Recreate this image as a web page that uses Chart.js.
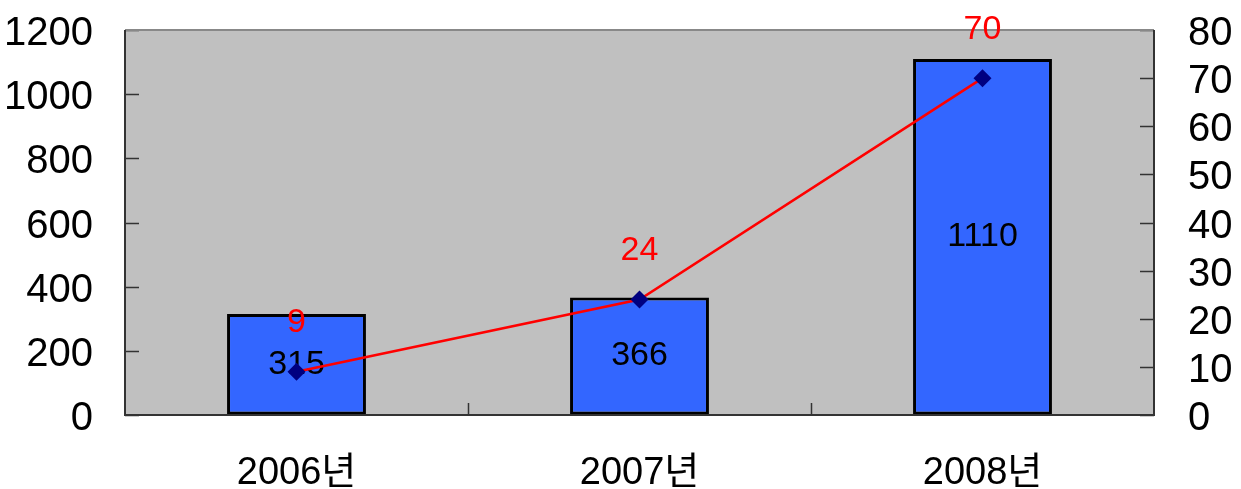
<!DOCTYPE html>
<html>
<head>
<meta charset="utf-8">
<script src="https://cdn.jsdelivr.net/npm/chart.js@4/dist/chart.umd.min.js"></script>
<style>
  html, body { margin: 0; padding: 0; background: #fff; }
  #wrap { width: 1241px; height: 489px; }
</style>
</head>
<body>
<div id="wrap"><canvas id="chart" width="1241" height="489"></canvas></div>
<script>
// chart data
const years = ['2006년', '2007년', '2008년'];
const barValues = [315, 366, 1110];
const lineValues = [9, 24, 70];

const fontFamily = '"Liberation Sans", "Noto Sans CJK KR", sans-serif';

// gray plot area + inward tick marks
const plotArea = {
    id: 'plotArea',
    beforeDatasetsDraw(chart) {
        const ctx = chart.ctx;
        const a = chart.chartArea;
        ctx.save();
        ctx.fillStyle = '#c0c0c0';
        ctx.fillRect(a.left, a.top, a.right - a.left, a.bottom - a.top);

        ctx.strokeStyle = '#333';
        ctx.lineWidth = 1.5;
        ctx.beginPath();
        const yl = chart.scales.y;
        yl.ticks.forEach(t => {
            const py = Math.round(yl.getPixelForValue(t.value)) + 0.5;
            ctx.moveTo(a.left, py);
            ctx.lineTo(a.left + 14, py);
        });
        const yr = chart.scales.y2;
        yr.ticks.forEach(t => {
            const py = Math.round(yr.getPixelForValue(t.value)) + 0.5;
            ctx.moveTo(a.right, py);
            ctx.lineTo(a.right - 14, py);
        });
        const xs = chart.scales.x;
        for (let i = 1; i < years.length; i++) {
            const px = Math.round((xs.getPixelForValue(i - 1) + xs.getPixelForValue(i)) / 2) + 0.5;
            ctx.moveTo(px, a.bottom);
            ctx.lineTo(px, a.bottom - 12);
        }
        ctx.stroke();
        ctx.restore();
    },
    afterDatasetDraw(chart, args) {
        // values inside the bars, drawn under the line
        if (args.meta.type !== 'bar') return;
        const ctx = chart.ctx;
        ctx.save();
        ctx.font = '34px ' + fontFamily;
        ctx.fillStyle = '#000';
        ctx.textAlign = 'center';
        ctx.textBaseline = 'middle';
        args.meta.data.forEach((el, i) => {
            ctx.fillText(barValues[i], el.x, (el.y + el.base) / 2);
        });
        ctx.restore();
    },
    afterDatasetsDraw(chart) {
        const ctx = chart.ctx;
        const a = chart.chartArea;
        ctx.save();
        // frame
        ctx.lineWidth = 2;
        ctx.strokeStyle = '#888';
        ctx.beginPath();
        ctx.moveTo(a.left, a.top);
        ctx.lineTo(a.right, a.top);
        ctx.stroke();
        ctx.strokeStyle = '#333';
        ctx.beginPath();
        ctx.moveTo(a.left, a.top);
        ctx.lineTo(a.left, a.bottom);
        ctx.lineTo(a.right, a.bottom);
        ctx.lineTo(a.right, a.top);
        ctx.stroke();

        // red values above the line points
        const meta = chart.getDatasetMeta(1);
        ctx.font = '34px ' + fontFamily;
        ctx.fillStyle = '#ff0000';
        ctx.textAlign = 'center';
        ctx.textBaseline = 'middle';
        meta.data.forEach((pt, i) => {
            ctx.fillText(lineValues[i], pt.x, pt.y - 49);
        });
        ctx.restore();
    }
};

// hidden tick length keeps the label gap without extra top padding
const hiddenGrid = (len) => ({
    display: true,
    drawOnChartArea: false,
    drawTicks: true,
    tickLength: len,
    color: 'rgba(0,0,0,0)',
    tickColor: 'rgba(0,0,0,0)'
});

const config = {
    data: {
        labels: years,
        datasets: [{
            type: 'bar',
            data: barValues,
            yAxisID: 'y',
            backgroundColor: '#3366ff',
            borderColor: '#000',
            borderWidth: 3,
            borderSkipped: false,
            barPercentage: 0.405,
            categoryPercentage: 1,
            order: 2
        }, {
            type: 'line',
            data: lineValues,
            yAxisID: 'y2',
            borderColor: '#ff0000',
            borderWidth: 2.5,
            pointStyle: 'rectRot',
            pointRadius: 9,
            pointBackgroundColor: '#000080',
            pointBorderColor: '#000080',
            pointBorderWidth: 0,
            tension: 0,
            order: 1
        }]
    },
    options: {
        responsive: false,
        animation: false,
        layout: { padding: { top: 30, right: 0, left: 0, bottom: 0 } },
        plugins: {
            legend: { display: false },
            tooltip: { enabled: false }
        },
        scales: {
            x: {
                grid: { display: false, drawTicks: false },
                border: { display: false },
                ticks: {
                    color: '#000',
                    padding: 36,
                    font: { family: fontFamily, size: 38 }
                },
                afterFit(scale) { scale.height = 74; }
            },
            y: {
                position: 'left',
                min: 0,
                max: 1200,
                grid: hiddenGrid(32),
                border: { display: false },
                ticks: {
                    stepSize: 200,
                    autoSkip: false,
                    color: '#000',
                    padding: 0,
                    labelOffset: 4,
                    font: { family: fontFamily, size: 40 },
                    callback: v => String(v)
                },
                afterFit(scale) { scale.width = 125; }
            },
            y2: {
                position: 'right',
                min: 0,
                max: 80,
                grid: hiddenGrid(34),
                border: { display: false },
                ticks: {
                    stepSize: 10,
                    autoSkip: false,
                    color: '#000',
                    padding: 0,
                    labelOffset: 4,
                    font: { family: fontFamily, size: 40 },
                    callback: v => String(v)
                },
                afterFit(scale) { scale.width = 87; }
            }
        }
    },
    plugins: [plotArea]
};

new Chart(document.getElementById('chart'), config);
</script>
</body>
</html>
